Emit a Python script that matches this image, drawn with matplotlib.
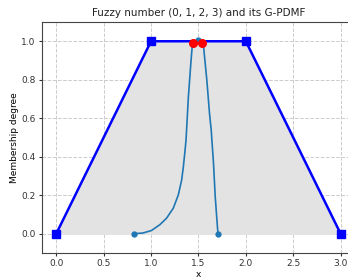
import matplotlib
matplotlib.use("Agg")
import matplotlib.pyplot as plt

trap_x = [0, 1, 2, 3]
trap_y = [0, 1, 1, 0]

left_x = [0.817, 0.916, 1.005, 1.093, 1.164, 1.235, 1.288, 1.323, 1.341, 1.359,
          1.369, 1.394, 1.419, 1.436, 1.46, 1.50]
left_y = [0.0, 0.004, 0.017, 0.047, 0.081, 0.133, 0.202, 0.279, 0.348, 0.434,
          0.486, 0.71, 0.88, 0.984, 1.0, 1.006]
right_x = [1.50, 1.53, 1.553, 1.589, 1.617, 1.635, 1.642, 1.659, 1.677, 1.695, 1.706]
right_y = [1.006, 1.0, 0.978, 0.796, 0.624, 0.538, 0.486, 0.366, 0.193, 0.072, 0.0]

red_x = [1.44, 1.535]
red_y = [0.989, 0.989]

fig = plt.figure(figsize=(3.48, 2.8), dpi=100)
ax = fig.add_axes([0.1207, 0.0964, 0.899, 0.825])

ax.fill_between(trap_x, trap_y, 0, color='#e3e3e3', zorder=1)
ax.plot(trap_x, trap_y, 'b-', lw=1.8, marker='s', ms=5.5, zorder=3)
ax.plot(left_x, left_y, color='#1f77b4', lw=1.2, marker='o', ms=3.5,
        markevery=[0, len(left_x) - 1], zorder=4)
ax.plot(right_x, right_y, color='#1f77b4', lw=1.2, marker='o', ms=3.5,
        markevery=[len(right_x) - 1], zorder=4)
ax.plot(red_x, red_y, 'o', color='red', ms=5.5, zorder=5)

ax.set_xlim(-0.15, 3.15)
ax.set_ylim(-0.1, 1.1)
ax.set_xticks([0, 0.5, 1.0, 1.5, 2.0, 2.5, 3.0])
ax.set_yticks([0, 0.2, 0.4, 0.6, 0.8, 1.0])
ax.tick_params(labelsize=6.5, length=2.5, pad=2, colors='#333333')
ax.grid(True, linestyle='--', color='#cccccc', lw=0.7)
ax.set_axisbelow(True)
for s in ax.spines.values():
    s.set_color('#444444')
ax.set_title('Fuzzy number (0, 1, 2, 3) and its G-PDMF', fontsize=7.5,
             color='#222222', pad=4)
ax.set_xlabel('x', fontsize=6.5, labelpad=1)
ax.set_ylabel('Membership degree', fontsize=6.5, labelpad=2)

fig.savefig('out.png', dpi=100)
